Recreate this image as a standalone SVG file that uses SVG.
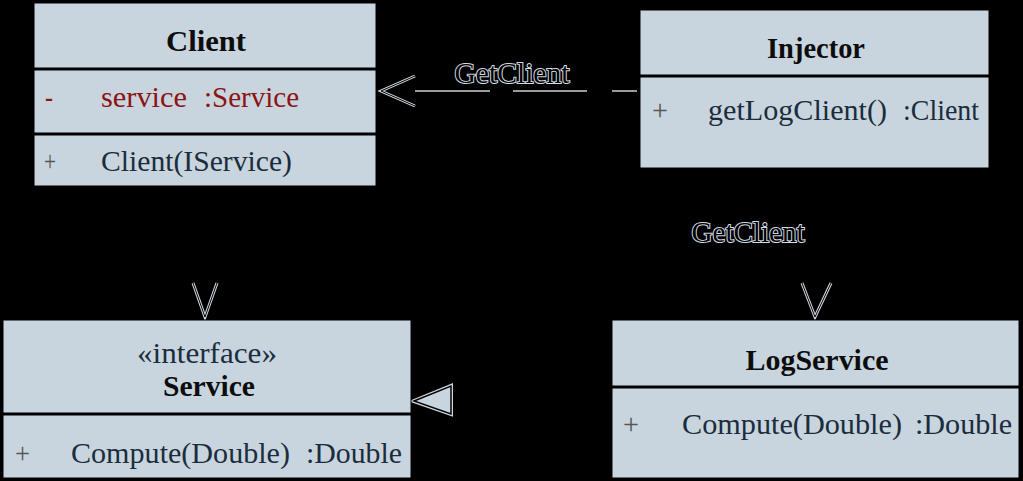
<svg xmlns="http://www.w3.org/2000/svg" width="1023" height="481" viewBox="0 0 1023 481">
<style>
.box{fill:#c9d5de;stroke:#000;stroke-width:1}
.div{stroke:#000;stroke-width:3}
.t{font-family:"Liberation Serif","Times New Roman",serif;font-size:30px;fill:#1b2d3d}
.b{font-family:"Liberation Serif","Times New Roman",serif;font-size:30px;font-weight:bold;fill:#0d0d0d}
.red{fill:#8b1414}
.vis{fill:#555}
.halo{fill:none;stroke:#cfd8e0;stroke-width:3}
.core{fill:none;stroke:#000;stroke-width:1}
.lbl{font-family:"Liberation Serif","Times New Roman",serif;font-size:30px;fill:#000;stroke:#d4dde6;stroke-width:2;paint-order:stroke}
</style>
<rect width="1023" height="481" fill="#000"/>
<g id="connectors">
  <line x1="637" y1="91" x2="381" y2="91" stroke="#9a9a9a" stroke-width="2" stroke-dasharray="25 25 74 23 75 200"/>
  <polyline class="halo" points="415,76 381,91 415,106"/>
  <polyline class="core" points="415,76 381,91 415,106"/>
  <text class="lbl" x="512" y="83" text-anchor="middle" textLength="115" lengthAdjust="spacingAndGlyphs">GetClient</text>
  <line x1="205" y1="186" x2="205" y2="317" stroke="#000" stroke-width="1"/>
  <polyline class="halo" points="193,283 205,317 217,283"/>
  <polyline class="core" points="193,283 205,317 217,283"/>
  <line x1="815" y1="168" x2="815" y2="317" stroke="#000" stroke-width="1"/>
  <polyline class="halo" points="802,283 815,317 831,283"/>
  <polyline class="core" points="802,283 815,317 831,283"/>
  <text class="lbl" x="748" y="242" text-anchor="middle" textLength="113" lengthAdjust="spacingAndGlyphs">GetClient</text>
  <line x1="451" y1="400" x2="612" y2="400" stroke="#000" stroke-width="1"/>
  <polygon points="414,401 451,386 451,414" fill="#c9d5de" stroke="#cfd8e0" stroke-width="4"/>
  <polygon points="414,401 451,386 451,414" fill="#c9d5de" stroke="#000" stroke-width="1.5"/>
</g>
<g id="client">
  <rect class="box" x="34" y="3" width="342" height="183"/>
  <line class="div" x1="34" y1="69" x2="376" y2="69"/>
  <line class="div" x1="34" y1="134" x2="376" y2="134"/>
  <text class="b" x="206" y="51" text-anchor="middle" textLength="80" lengthAdjust="spacingAndGlyphs">Client</text>
  <text class="t red" x="45" y="107" textLength="8" lengthAdjust="spacingAndGlyphs">-</text>
  <text class="t red" x="101" y="107" textLength="86" lengthAdjust="spacingAndGlyphs">service</text>
  <text class="t red" x="204" y="107" textLength="95" lengthAdjust="spacingAndGlyphs">:Service</text>
  <text class="t vis" x="44" y="171" textLength="12" lengthAdjust="spacingAndGlyphs">+</text>
  <text class="t" x="101" y="171" textLength="191" lengthAdjust="spacingAndGlyphs">Client(IService)</text>
</g>
<g id="injector">
  <rect class="box" x="640" y="10" width="349" height="158"/>
  <line class="div" x1="640" y1="76" x2="989" y2="76"/>
  <text class="b" x="816" y="58" text-anchor="middle" textLength="98" lengthAdjust="spacingAndGlyphs">Injector</text>
  <text class="t vis" x="652" y="120" textLength="16" lengthAdjust="spacingAndGlyphs">+</text>
  <text class="t" x="708" y="120" textLength="179" lengthAdjust="spacingAndGlyphs">getLogClient()</text>
  <text class="t" x="903" y="120" textLength="76" lengthAdjust="spacingAndGlyphs">:Client</text>
</g>
<g id="service">
  <rect class="box" x="3" y="320" width="408" height="158"/>
  <line class="div" x1="3" y1="414" x2="411" y2="414"/>
  <text class="t" x="207" y="363" text-anchor="middle" textLength="140" lengthAdjust="spacingAndGlyphs">«interface»</text>
  <text class="b" x="209" y="396" text-anchor="middle" textLength="92" lengthAdjust="spacingAndGlyphs">Service</text>
  <text class="t vis" x="15" y="463" textLength="15" lengthAdjust="spacingAndGlyphs">+</text>
  <text class="t" x="71" y="463" textLength="219" lengthAdjust="spacingAndGlyphs">Compute(Double)</text>
  <text class="t" x="306" y="463" textLength="96" lengthAdjust="spacingAndGlyphs">:Double</text>
</g>
<g id="logservice">
  <rect class="box" x="612" y="320" width="407" height="158"/>
  <line class="div" x1="612" y1="387" x2="1019" y2="387"/>
  <text class="b" x="817" y="370" text-anchor="middle" textLength="143" lengthAdjust="spacingAndGlyphs">LogService</text>
  <text class="t vis" x="623" y="434" textLength="16" lengthAdjust="spacingAndGlyphs">+</text>
  <text class="t" x="682" y="434" textLength="220" lengthAdjust="spacingAndGlyphs">Compute(Double)</text>
  <text class="t" x="915" y="434" textLength="97" lengthAdjust="spacingAndGlyphs">:Double</text>
</g>
</svg>
